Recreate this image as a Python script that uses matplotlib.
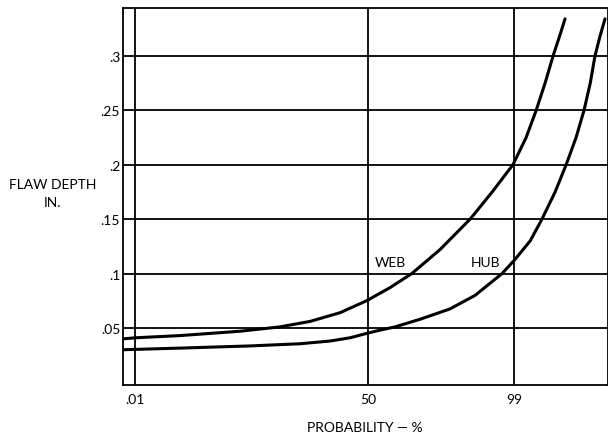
import math
import numpy as np
import matplotlib
matplotlib.use("Agg")
import matplotlib.pyplot as plt

# Flaw depth (in.) vs cumulative probability (%)
web_prob = [0.0047, 0.0108, 0.136, 2.06, 8.0, 17.7, 32.7, 49, 63.6, 75.7, 87.4,
            94.8, 97.6, 98.95, 99.41, 99.63, 99.76, 99.84, 99.89, 99.915]
web_depth = [0.040, 0.041, 0.043, 0.047, 0.051, 0.056, 0.064, 0.075, 0.087, 0.100, 0.122,
             0.150, 0.175, 0.200, 0.225, 0.250, 0.275, 0.300, 0.320, 0.334]

hub_prob = [0.0047, 0.136, 2.99, 13.9, 27.2, 38.7, 49, 57.5, 66.6, 79.6, 90.4, 95.6,
            98.36, 99.0, 99.51, 99.72, 99.856, 99.920, 99.954, 99.971, 99.980, 99.985,
            99.989, 99.992]
hub_depth = [0.030, 0.0315, 0.0335, 0.0355, 0.038, 0.041, 0.045, 0.048, 0.051, 0.058,
             0.0675, 0.080, 0.100, 0.112, 0.130, 0.150, 0.175, 0.200, 0.225, 0.250,
             0.275, 0.300, 0.318, 0.334]

x_ticks = [0.01, 50, 99]
x_labels = [".01", "50", "99"]
y_ticks = [0.05, 0.1, 0.15, 0.2, 0.25, 0.3]
y_labels = [".05", ".1", ".15", ".2", ".25", ".3"]


# normal probability scale (Acklam approximation for the inverse cdf)
_a = [-3.969683028665376e+01, 2.209460984245205e+02, -2.759285104469687e+02,
      1.383577518672690e+02, -3.066479806614716e+01, 2.506628277459239e+00]
_b = [-5.447609879822406e+01, 1.615858368580409e+02, -1.556989798598866e+02,
      6.680131188771972e+01, -1.328068155288572e+01]
_c = [-7.784894002430293e-03, -3.223964580411365e-01, -2.400758277161838e+00,
      -2.549732539343734e+00, 4.374664141464968e+00, 2.938163982698783e+00]
_d = [7.784695709041462e-03, 3.224671290700398e-01, 2.445134137142996e+00,
      3.754408661907416e+00]


def ppf(p):
    p = np.clip(np.asarray(p, dtype=float), 1e-12, 1 - 1e-12)
    plow = 0.02425
    q = np.sqrt(-2 * np.log(np.minimum(p, 1 - p)))
    tail = (((((_c[0]*q + _c[1])*q + _c[2])*q + _c[3])*q + _c[4])*q + _c[5]) / \
           ((((_d[0]*q + _d[1])*q + _d[2])*q + _d[3])*q + 1)
    r0 = p - 0.5
    r = r0 * r0
    mid = (((((_a[0]*r + _a[1])*r + _a[2])*r + _a[3])*r + _a[4])*r + _a[5]) * r0 / \
          (((((_b[0]*r + _b[1])*r + _b[2])*r + _b[3])*r + _b[4])*r + 1)
    return np.where(p < plow, tail, np.where(p > 1 - plow, -tail, mid))


_erf = np.vectorize(math.erf)


def forward(pct):
    return ppf(np.asarray(pct, dtype=float) / 100.0)


def inverse(z):
    z = np.asarray(z, dtype=float)
    return 100.0 * 0.5 * (1 + _erf(z / math.sqrt(2)))


plt.rcParams['font.family'] = ['Lato', 'DejaVu Sans']
fs = 10

fig = plt.figure(figsize=(6.08, 4.35), dpi=100)
ax = fig.add_axes([123/608, 1 - 386/435, 1 - 123/608, (386 - 9)/435])
ax.set_xscale('function', functions=(forward, inverse))

ax.plot(web_prob, web_depth, color="black", lw=2.2, solid_capstyle="round",
        solid_joinstyle="round", zorder=3)
ax.plot(hub_prob, hub_depth, color="black", lw=2.2, solid_capstyle="round",
        solid_joinstyle="round", zorder=3)

ax.text(64, 0.1107, "WEB", ha="center", va="center", fontsize=fs)
ax.text(96.9, 0.1107, "HUB", ha="center", va="center", fontsize=fs)

ax.set_xlim(0.0047, 99.9934)
ax.set_ylim(-0.0024, 0.344)
ax.set_xticks(x_ticks)
ax.set_xticklabels(x_labels)
ax.set_yticks(y_ticks)
ax.set_yticklabels(y_labels)
ax.xaxis.set_minor_locator(matplotlib.ticker.NullLocator())
ax.tick_params(length=0, labelsize=fs)
ax.tick_params(axis="x", pad=6)
ax.tick_params(axis="y", pad=2)
ax.grid(True, color="black", lw=1.3)
ax.set_axisbelow(True)
for s in ax.spines.values():
    s.set_linewidth(1.3)

fig.text(365/608, 1 - 428/435, "PROBABILITY \u2014 %", ha="center", va="center", fontsize=fs)
fig.text(53/608, 1 - 185/435, "FLAW DEPTH", ha="center", va="center", fontsize=fs)
fig.text(53/608, 1 - 203/435, "IN.", ha="center", va="center", fontsize=fs)

fig.savefig("out.png", dpi=100)
